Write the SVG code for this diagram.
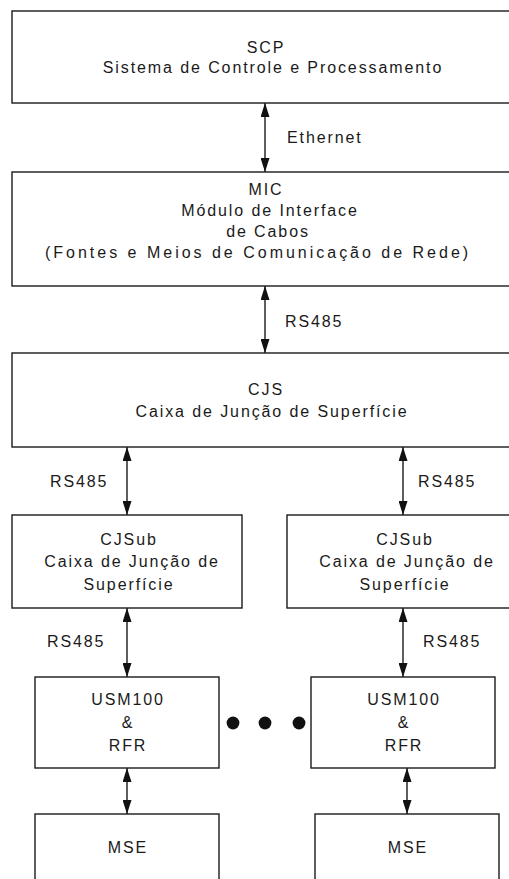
<svg xmlns="http://www.w3.org/2000/svg" width="509" height="879" viewBox="0 0 509 879">
  <style>
    .box { fill: #ffffff; stroke: #1a1a1a; stroke-width: 1.4; }
    .lbl { font-family: "Liberation Sans", Arial, sans-serif; font-size: 16px; fill: #1a1a1a; letter-spacing: 1.9px; }
    .c { text-anchor: middle; }
    .link { stroke: #1a1a1a; stroke-width: 1.4; fill: none; marker-start: url(#head); marker-end: url(#head); }
    .dot { fill: #111111; }
  </style>
  <defs>
    <marker id="head" viewBox="0 0 14 9" refX="14" refY="4.5" markerWidth="14" markerHeight="9" markerUnits="userSpaceOnUse" orient="auto-start-reverse">
      <path d="M0,0 L14,4.5 L0,9 Z" fill="#111111"/>
    </marker>
  </defs>
  <rect width="509" height="879" fill="#ffffff"/>

  <!-- connectors -->
  <g id="connectors">
    <line class="link" x1="265" y1="103" x2="265" y2="172"/>
    <line class="link" x1="265" y1="286" x2="265" y2="353"/>
    <line class="link" x1="127" y1="447" x2="127" y2="515"/>
    <line class="link" x1="403" y1="447" x2="403" y2="515"/>
    <line class="link" x1="127" y1="608" x2="127" y2="677"/>
    <line class="link" x1="403" y1="608" x2="403" y2="677"/>
    <line class="link" x1="127" y1="768" x2="127" y2="814"/>
    <line class="link" x1="407" y1="768" x2="407" y2="814"/>
    <text class="lbl" x="287" y="143">Ethernet</text>
    <text class="lbl" x="285" y="327">RS485</text>
    <text class="lbl" x="50" y="487">RS485</text>
    <text class="lbl" x="418" y="487">RS485</text>
    <text class="lbl" x="47" y="647">RS485</text>
    <text class="lbl" x="423" y="647">RS485</text>
  </g>

  <g id="scp">
    <rect class="box" x="12" y="11" width="510" height="92"/>
    <text class="lbl c" x="266" y="53">SCP</text>
    <text class="lbl c" x="273" y="73">Sistema de Controle e Processamento</text>
  </g>

  <g id="mic">
    <rect class="box" x="12" y="172" width="510" height="114"/>
    <text class="lbl c" x="266" y="195">MIC</text>
    <text class="lbl c" x="270" y="216">Módulo de Interface</text>
    <text class="lbl c" x="268" y="237">de Cabos</text>
    <text class="lbl" x="45" y="258" textLength="425" lengthAdjust="spacing">(Fontes e Meios de Comunicação de Rede)</text>
  </g>

  <g id="cjs">
    <rect class="box" x="12" y="353" width="510" height="94"/>
    <text class="lbl c" x="266" y="395">CJS</text>
    <text class="lbl c" x="272" y="417">Caixa de Junção de Superfície</text>
  </g>

  <g id="cjsub-left">
    <rect class="box" x="12" y="515" width="230" height="93"/>
    <text class="lbl c" x="129" y="545">CJSub</text>
    <text class="lbl c" x="132" y="567">Caixa de Junção de</text>
    <text class="lbl c" x="129" y="590">Superfície</text>
  </g>

  <g id="cjsub-right">
    <rect class="box" x="287" y="515" width="235" height="93"/>
    <text class="lbl c" x="405" y="545">CJSub</text>
    <text class="lbl c" x="407" y="567">Caixa de Junção de</text>
    <text class="lbl c" x="405" y="590">Superfície</text>
  </g>

  <g id="usm-left">
    <rect class="box" x="35" y="677" width="184" height="91"/>
    <text class="lbl c" x="128" y="705">USM100</text>
    <text class="lbl c" x="128" y="728">&amp;</text>
    <text class="lbl c" x="128" y="751">RFR</text>
  </g>

  <g id="usm-right">
    <rect class="box" x="311" y="677" width="184" height="91"/>
    <text class="lbl c" x="404" y="705">USM100</text>
    <text class="lbl c" x="404" y="728">&amp;</text>
    <text class="lbl c" x="404" y="751">RFR</text>
  </g>

  <g id="ellipsis">
    <circle class="dot" cx="233" cy="723" r="6.4"/>
    <circle class="dot" cx="265" cy="723" r="6.4"/>
    <circle class="dot" cx="299" cy="723" r="6.4"/>
  </g>

  <g id="mse-left">
    <rect class="box" x="35" y="814" width="184" height="80"/>
    <text class="lbl c" x="128" y="853">MSE</text>
  </g>

  <g id="mse-right">
    <rect class="box" x="315" y="814" width="184" height="80"/>
    <text class="lbl c" x="408" y="853">MSE</text>
  </g>
</svg>
